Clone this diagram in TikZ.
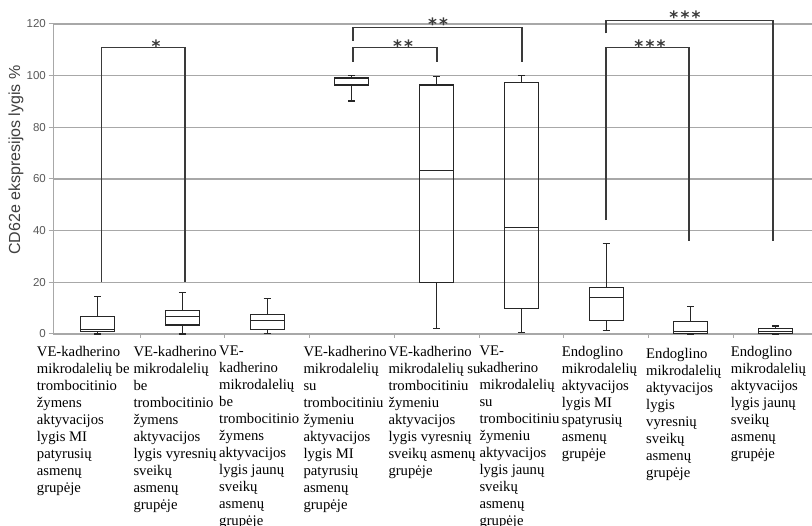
\documentclass[tikz,border=0pt]{standalone}
\usepackage{fontspec}
\setmainfont{Liberation Serif}
\newfontfamily\axfont{Liberation Sans}
\newfontfamily\starfont{DejaVu Sans}
\definecolor{gridgray}{HTML}{A8A8A8}
\definecolor{boxcol}{HTML}{262626}
\definecolor{brcol}{HTML}{3A3A3A}
\definecolor{ticktext}{HTML}{595959}
\definecolor{labtext}{HTML}{404040}
\newcommand{\bxp}[6]{%
  \draw[boxline] (#1-17,#3) rectangle (#1+17,#5);
  \draw[boxline] (#1-17,#4) -- (#1+17,#4);
  \draw[boxline] (#1,#5) -- (#1,#6) (#1-3.5,#6) -- (#1+3.5,#6);
  \draw[boxline] (#1,#3) -- (#1,#2) (#1-3.5,#2) -- (#1+3.5,#2);
}
\begin{document}
\begin{tikzpicture}[x=1pt,y=-1pt,
  gridline/.style={draw=gridgray,line width=1.3pt},
  boxline/.style={draw=boxcol,line width=1.1pt},
  bracket/.style={draw=brcol,line width=1.1pt},
  stars/.style={font=\starfont\bfseries\fontsize{17}{17}\selectfont,text=brcol,anchor=base,inner sep=0},
  ticklab/.style={font=\axfont\fontsize{11.5}{11.5}\selectfont,text=ticktext,anchor=east,inner sep=0},
  ylab/.style={font=\axfont\fontsize{16}{16}\selectfont,text=labtext,inner sep=0,rotate=90},
  cat/.style={anchor=north west,inner sep=0,align=left,font=\fontsize{14.7}{17}\selectfont}]
\useasboundingbox (0,0) rectangle (812,526);
\fill[white] (0,0) rectangle (812,526);
% x ticks
\foreach \k in {1,...,8} \draw[gridline,line width=1pt] ({55.3+84.75*\k},334) -- ++(0,4);
\begin{scope}[shift={(0,334)},y=2.5833pt]
  \foreach \v in {20,40,...,120} \draw[gridline] (53.3,\v) -- (812,\v);
  \draw[gridline] (53.3,0) -- (812,0);
  \draw[gridline] (53.3,0) -- (53.3,120);
  \foreach \v in {0,20,...,120} {
    \draw[gridline,line width=1pt] (48.5,\v) -- (53.3,\v);
    \node[ticklab] at (46,\v) {\v};
  }
  % boxes: x, min, q1, med, q3, max
  \bxp{97.7}{0}{0.8}{1.6}{6.8}{14.5}
  \bxp{182.4}{0}{3.5}{6.6}{9.2}{16}
  \bxp{267.2}{0.3}{1.6}{5.3}{7.7}{13.8}
  \bxp{351.9}{90.2}{96.4}{98.9}{99.3}{100}
  \bxp{436.7}{2.2}{19.9}{63.4}{96.4}{99.8}
  \bxp{521.4}{0.5}{9.9}{41.2}{97.4}{100}
  \bxp{606.2}{1.5}{5.2}{14.2}{18.1}{35.1}
  \bxp{690.9}{0}{0.2}{1.0}{4.8}{10.8}
  \bxp{775.7}{0}{0.3}{1.0}{2.3}{3.1}
  % brackets
  \draw[bracket] (101.7,20) -- (101.7,110.8) -- (185,110.8) -- (185,20);
  \draw[bracket] (353,105.4) -- (353,110.8) -- (437,110.8) -- (437,105.4);
  \draw[bracket] (353,113.5) -- (353,118.7) -- (522,118.7) -- (522,105.3);
  \draw[bracket] (606,44.1) -- (606,110.8) -- (689,110.8) -- (689,36);
  \draw[bracket] (606,116.4) -- (606,121.5) -- (773,121.5) -- (773,36);
\end{scope}
% stars
\node[stars] (st1) at (156,53) {*};
\node[stars] (st2) at (403,53) {*\hspace{2.2pt}*};
\node[stars] (st3) at (438,31) {*\hspace{2.2pt}*};
\node[stars] (st4) at (650,53) {*\hspace{2.2pt}*\hspace{2.2pt}*};
\node[stars] (st5) at (685,23.6) {*\hspace{2.2pt}*\hspace{2.2pt}*};
% axis label
\node[ylab] (yl) at (16,160) {CD62e ekspresijos lygis \%};
% category labels
\node[cat] (c1) at (36.7,346) {VE-kadherino\\mikrodalelių be\\trombocitinio\\žymens\\aktyvacijos\\lygis MI\\patyrusių\\asmenų\\grupėje};
\node[cat] (c2) at (133.3,346) {VE-kadherino\\mikrodalelių\\be\\trombocitinio\\žymens\\aktyvacijos\\lygis vyresnių\\sveikų\\asmenų\\grupėje};
\node[cat] (c3) at (219,346) {VE-\\kadherino\\mikrodalelių\\be\\trombocitinio\\žymens\\aktyvacijos\\lygis jaunų\\sveikų\\asmenų\\grupėje};
\node[cat] (c4) at (303.3,346) {VE-kadherino\\mikrodalelių\\su\\trombocitiniu\\žymeniu\\aktyvacijos\\lygis MI\\patyrusių\\asmenų\\grupėje};
\node[cat] (c5) at (388.3,346) {VE-kadherino\\mikrodalelių su\\trombocitiniu\\žymeniu\\aktyvacijos\\lygis vyresnių\\sveikų asmenų\\grupėje};
\node[cat] (c6) at (479.3,346) {VE-\\kadherino\\mikrodalelių\\su\\trombocitiniu\\žymeniu\\aktyvacijos\\lygis jaunų\\sveikų\\asmenų\\grupėje};
\node[cat] (c7) at (561.7,346) {Endoglino\\mikrodalelių\\aktyvacijos\\lygis MI\\spatyrusių\\asmenų\\grupėje};
\node[cat] (c8) at (646,347.8) {Endoglino\\mikrodalelių\\aktyvacijos\\lygis\\vyresnių\\sveikų\\asmenų\\grupėje};
\node[cat] (c9) at (730.7,346) {Endoglino\\mikrodalelių\\aktyvacijos\\lygis jaunų\\sveikų\\asmenų\\grupėje};
\end{tikzpicture}
\end{document}
